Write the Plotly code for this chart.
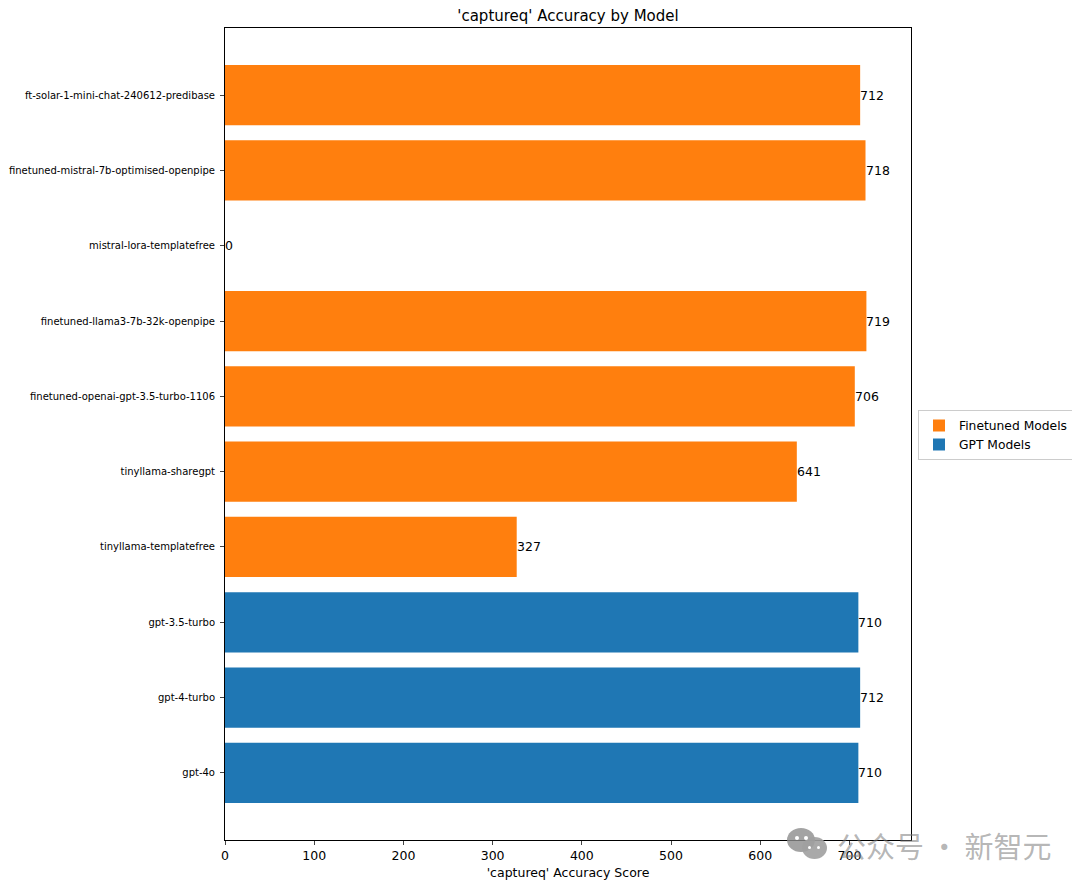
import plotly.graph_objects as go

models = ["gpt-4o","gpt-4-turbo","gpt-3.5-turbo","tinyllama-templatefree","tinyllama-sharegpt",
          "finetuned-openai-gpt-3.5-turbo-1106","finetuned-llama3-7b-32k-openpipe",
          "mistral-lora-templatefree","finetuned-mistral-7b-optimised-openpipe",
          "ft-solar-1-mini-chat-240612-predibase"]
scores = [710,712,710,327,641,706,719,0,718,712]
groups = ["GPT Models"]*3 + ["Finetuned Models"]*7
colors = {"GPT Models":"#1f77b4","Finetuned Models":"#ff7f0e"}
xticks = [0,100,200,300,400,500,600,700]

# page body has an 8px margin, so the canvas is 1072x880 and offset by 8
OFF = 8
W,H = 1080-OFF,888-OFF
L,R,T,B = 225-OFF,911-OFF,28-OFF,840-OFF

def px(x): return (x-OFF-L)/(R-L)
def py(y): return (B-(y-OFF))/(B-T)

fig = go.Figure()
for g in ["Finetuned Models","GPT Models"]:
    xs = [s if gg==g else None for s,gg in zip(scores,groups)]
    fig.add_trace(go.Bar(y=models, x=xs, orientation="h", name=g,
                         marker=dict(color=colors[g], line_width=0), width=0.8))

annotations = [dict(x=s,y=m,xref="x",yref="y",text=str(s),showarrow=False,xanchor="left",yanchor="middle",
                    xshift=-2,font=dict(size=12.5,color="black")) for s,m in zip(scores,models)]
annotations.append(dict(xref="paper",yref="paper",x=px(835),y=py(845),text="公众号\u2009·\u2009新智元",showarrow=False,
                        xanchor="left",yanchor="middle",
                        font=dict(family="Noto Sans CJK SC",size=29,color="rgba(120,120,120,0.55)")))

def ell(x0,x1,y0,y1,color):
    return dict(type="circle",xref="paper",yref="paper",x0=px(x0),x1=px(x1),y0=py(y0),y1=py(y1),
                fillcolor=color,line_width=0,layer="above")
wm = "rgba(140,140,140,0.8)"
shapes = [ell(787,815,828,852,wm),ell(802,827,837,859,"rgba(160,160,160,0.9)"),
          ell(795,799,836,840,"white"),ell(804,808,836,840,"white"),
          ell(808,811,846,849,"white"),ell(817,820,846,849,"white")]

fig.update_layout(
    width=W,height=H,margin=dict(l=L,r=W-R,t=T,b=H-B,autoexpand=False),
    paper_bgcolor="white",plot_bgcolor="white",barmode="overlay",
    font=dict(family="DejaVu Sans",color="black"),
    title=dict(text="'captureq' Accuracy by Model",x=(L+R)/2/W,xanchor="center",y=1-(16-OFF)/H,yanchor="middle",font=dict(size=15)),
    legend=dict(x=(918-OFF-L)/(R-L),y=py(435),xanchor="left",yanchor="middle",bordercolor="#cccccc",borderwidth=1,
                font=dict(size=12.3),traceorder="normal",itemwidth=30,entrywidth=100,entrywidthmode="pixels"),
    annotations=annotations,shapes=shapes,
    xaxis=dict(range=[0,769],tickvals=xticks,ticks="outside",ticklen=4,showgrid=False,zeroline=False,
               showline=True,mirror=True,linecolor="black",linewidth=1,tickfont=dict(size=12.5),
               title=dict(text="'captureq' Accuracy Score",font=dict(size=12.5),standoff=6)),
    yaxis=dict(categoryorder="array",categoryarray=models,range=[-0.89,9.89],ticks="outside",ticklen=4,showgrid=False,
               showline=True,mirror=True,linecolor="black",linewidth=1,tickfont=dict(size=10),ticklabelstandoff=3),
)
fig.write_html("out.html")
